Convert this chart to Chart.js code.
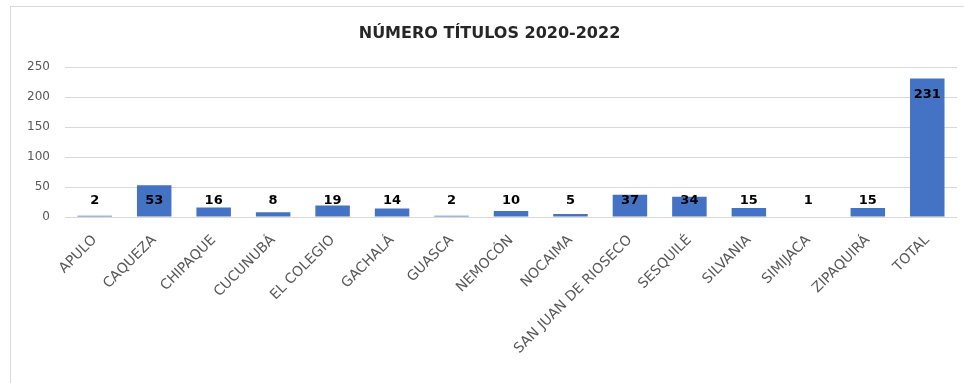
<!DOCTYPE html>
<html lang="es">
<head>
<meta charset="utf-8" />
<title>Número títulos 2020-2022</title>
<script src="https://cdn.jsdelivr.net/npm/chart.js@4.4.1/dist/chart.umd.min.js"></script>
<style>
  html, body { margin: 0; padding: 0; background: #fff; overflow: hidden; }
  .frame {
    position: absolute; left: 10px; top: 6px; width: 980px; height: 420px;
    border: 1px solid #d9d9d9; box-sizing: border-box;
  }
  .wrap { position: absolute; left: 0; top: 0; width: 964px; height: 383px; }
</style>
</head>
<body>
<div class="frame"></div>
<div class="wrap"><canvas id="chart"></canvas></div>
<script>
  // data
  const municipios = [
    "APULO", "CAQUEZA", "CHIPAQUE", "CUCUNUBÁ", "EL COLEGIO", "GACHALÁ",
    "GUASCA", "NEMOCÓN", "NOCAIMA", "SAN JUAN DE RIOSECO", "SESQUILÉ",
    "SILVANIA", "SIMIJACA", "ZIPAQUIRÁ", "TOTAL"
  ];
  const titulos = [2, 53, 16, 8, 19, 14, 2, 10, 5, 37, 34, 15, 1, 15, 231];
  const yTicks = [0, 50, 100, 150, 200, 250];

  const FONT = "'DejaVu Sans', sans-serif";

  // Excel-like "inside end" labels, pushed up when the bar is too short
  const barLabels = {
    id: "barLabels",
    afterDatasetsDraw(chart) {
      const ctx = chart.ctx;
      const meta = chart.getDatasetMeta(0);
      const base = chart.scales.y.getPixelForValue(0);
      ctx.save();
      ctx.font = "bold 13px " + FONT;
      ctx.fillStyle = "#000";
      ctx.textAlign = "center";
      ctx.textBaseline = "middle";
      meta.data.forEach((bar, i) => {
        const y = Math.min(bar.y + 16, base - 16);
        ctx.fillText(String(titulos[i]), bar.x, y);
      });
      ctx.restore();
    }
  };

  new Chart(document.getElementById("chart"), {
    type: "bar",
    data: {
      labels: municipios,
      datasets: [{
        label: "Número títulos",
        data: titulos,
        backgroundColor: "#4472c4",
        borderWidth: 0,
        barPercentage: 0.58,
        categoryPercentage: 1
      }]
    },
    options: {
      responsive: true,
      maintainAspectRatio: false,
      animation: false,
      layout: { padding: { left: 22, right: 7, top: 0, bottom: 0 } },
      plugins: {
        legend: { display: false },
        tooltip: { enabled: false },
        title: {
          display: true,
          text: "NÚMERO TÍTULOS 2020-2022",
          color: "#262626",
          font: { family: FONT, size: 16, weight: "bold", lineHeight: 1.2 },
          padding: { top: 24, bottom: 24 }
        }
      },
      scales: {
        x: {
          grid: { display: false },
          border: { display: false },
          ticks: {
            color: "#595959",
            font: { family: FONT, size: 14 },
            minRotation: 45,
            maxRotation: 45,
            autoSkip: false,
            padding: 7
          },
          afterFit(scale) { scale.height = 166; }
        },
        y: {
          min: 0,
          max: 250,
          afterBuildTicks(scale) { scale.ticks = yTicks.map(v => ({ value: v })); },
          grid: { color: "#d9d9d9", lineWidth: 1, drawTicks: false },
          border: { display: false },
          ticks: {
            color: "#595959",
            font: { family: FONT, size: 12 },
            padding: 15
          },
          afterFit(scale) { scale.width = 43; }
        }
      }
    },
    plugins: [barLabels]
  });
</script>
</body>
</html>
